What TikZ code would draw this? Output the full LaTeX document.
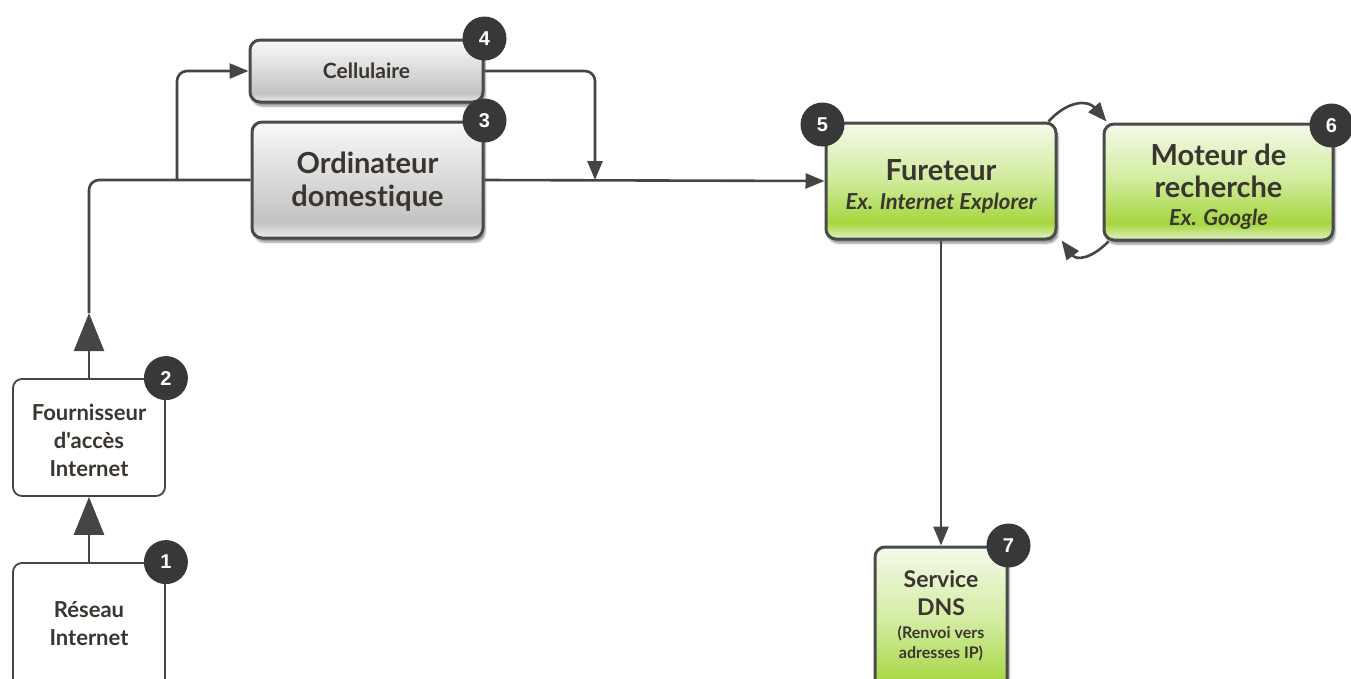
\documentclass[tikz,border=0pt]{standalone}
\usepackage{fontspec}
\setmainfont{Lato}[Ligatures={TeXOff,CommonOff}]
\newfontfamily\badgefont{Liberation Sans}
\usetikzlibrary{arrows.meta,calc,shadows.blur}

\definecolor{lineC}{HTML}{454545}
\definecolor{boxC}{HTML}{4A4A4A}
\definecolor{badgeC}{HTML}{383838}
\definecolor{txtC}{HTML}{3B3530}
% grey gradient
\definecolor{gB}{HTML}{EDEDED}
\definecolor{gA}{HTML}{C2C2C2}
\definecolor{gC}{HTML}{DCDCDC}
\definecolor{gT}{HTML}{F9F9F9}
% green gradient
\definecolor{nB}{HTML}{E2F2C6}
\definecolor{nA}{HTML}{A6D63F}
\definecolor{nC}{HTML}{D3ECA2}
\definecolor{nT}{HTML}{F3FAE9}

\pgfdeclareverticalshading{greyfill}{100bp}{color(0bp)=(gB); color(25bp)=(gB); color(32bp)=(gA); color(52bp)=(gC); color(75bp)=(gT); color(100bp)=(gT)}
\pgfdeclareverticalshading{greenfill}{100bp}{color(0bp)=(nB); color(25bp)=(nB); color(32bp)=(nA); color(52bp)=(nC); color(75bp)=(nT); color(100bp)=(nT)}

\tikzset{
  x=1pt, y=-1pt,
  conn/.style={draw=lineC, line width=2.6pt, rounded corners=10pt},
  tipS/.style={-{Triangle[length=19pt,width=15pt]}},
  tipL/.style={-{Triangle[length=38pt,width=30pt]}},
  whitebox/.style={draw=lineC, line width=1.8pt, fill=white, rounded corners=9pt},
  boxshadow/.style={blur shadow={shadow xshift=2pt, shadow yshift=-4pt, shadow blur steps=6, shadow opacity=45}},
  greybox/.style={draw=boxC, line width=3pt, rounded corners=10pt, shading=greyfill, boxshadow},
  greenbox/.style={draw=boxC, line width=3pt, rounded corners=10pt, shading=greenfill, boxshadow},
  badge/.style={circle, fill=badgeC, minimum size=44pt, inner sep=0pt, text=white,
    font=\badgefont\bfseries\fontsize{20}{20}\selectfont},
  lbl/.style={text=txtC, align=center, inner sep=0pt}
}

\begin{document}
\begin{tikzpicture}
\useasboundingbox (0,0) rectangle (1351,678);
\clip (0,0) rectangle (1351,678);

% boxes
\node[whitebox, minimum width=152pt, minimum height=140pt] (net) at (89,633) {};
\node[whitebox, minimum width=152pt, minimum height=117pt] (isp) at (89,437.5) {};
\node[greybox, minimum width=233pt, minimum height=62pt] (cell) at (366.5,71) {};
\node[greybox, minimum width=231pt, minimum height=116pt] (ord) at (367.5,180) {};
\node[greenbox, minimum width=230pt, minimum height=116pt] (fur) at (941,181) {};
\node[greenbox, minimum width=229pt, minimum height=116pt] (mot) at (1218.5,182) {};
\node[greenbox, minimum width=132pt, minimum height=160pt] (dns) at (941,627) {};

% box texts
\node[lbl, font=\bfseries\fontsize{22}{28}\selectfont] (nettxt) at (89,624) {Réseau\\Internet};
\node[lbl, font=\bfseries\fontsize{22}{28}\selectfont] (isptxt) at (89,440) {Fournisseur\\d'accès\\Internet};
\node[lbl, font=\bfseries\fontsize{21}{24}\selectfont] (celltxt) at (366.5,71) {Cellulaire};
\node[lbl, font=\bfseries\fontsize{29}{33}\selectfont] (ordtxt) at (367.5,182) {Ordinateur\\domestique};
\node[lbl, font=\bfseries\fontsize{29}{29}\selectfont] (furtxt) at (941,186)
  {Fureteur\\{\fontsize{22}{24}\selectfont\itshape Ex. Internet Explorer}};
\node[lbl, font=\bfseries\fontsize{29}{32}\selectfont] (mottxt) at (1218.5,187)
  {Moteur de\\recherche\\[-4pt]{\fontsize{22}{24}\selectfont\itshape Ex. Google}};
\node[lbl, font=\bfseries\fontsize{23}{28}\selectfont] (dnstxt) at (941,616)
  {Service\\DNS\\[-5pt]{\fontsize{16}{18}\selectfont (Renvoi vers}\\[-8pt]{\fontsize{16}{18}\selectfont adresses IP)}};

% connectors
\draw[conn, tipL] (net.north) -- (isp.south);
\coordinate (upA) at ($(isp.north)+(0,-65)$);
\draw[conn, tipL] (isp.north) -- (upA);
\draw[conn] (upA) |- (ord.west);
\coordinate (jn) at (177,180);
\draw[conn, tipS] (jn) |- (cell.west);
\coordinate (mrg) at (595,180);
\draw[conn, tipS] (cell.east) -| (mrg);
\draw[conn, tipS] (ord.east) -- (fur.west);
\draw[conn, tipS] (fur.south) -- (dns.north);
\draw[conn, tipS] ($(fur.north east)+(-9,0)$) .. controls (1068,100) and (1088,100) .. ($(mot.north west)+(4,-1)$);
\draw[conn, tipS] ($(mot.south west)+(6,0)$) .. controls (1090,260) and (1076,260) .. ($(fur.south east)+(4,0)$);

% numbered badges
\node[badge] (b1) at (net.north east) {1};
\node[badge] (b2) at (isp.north east) {2};
\node[badge] (b3) at (ord.north east) {3};
\node[badge] (b4) at (cell.north east) {4};
\node[badge] (b5) at ($(fur.north west)+(-2,3)$) {5};
\node[badge] (b6) at ($(mot.north east)+(-3,3)$) {6};
\node[badge] (b7) at (dns.north east) {7};
\end{tikzpicture}
\end{document}
